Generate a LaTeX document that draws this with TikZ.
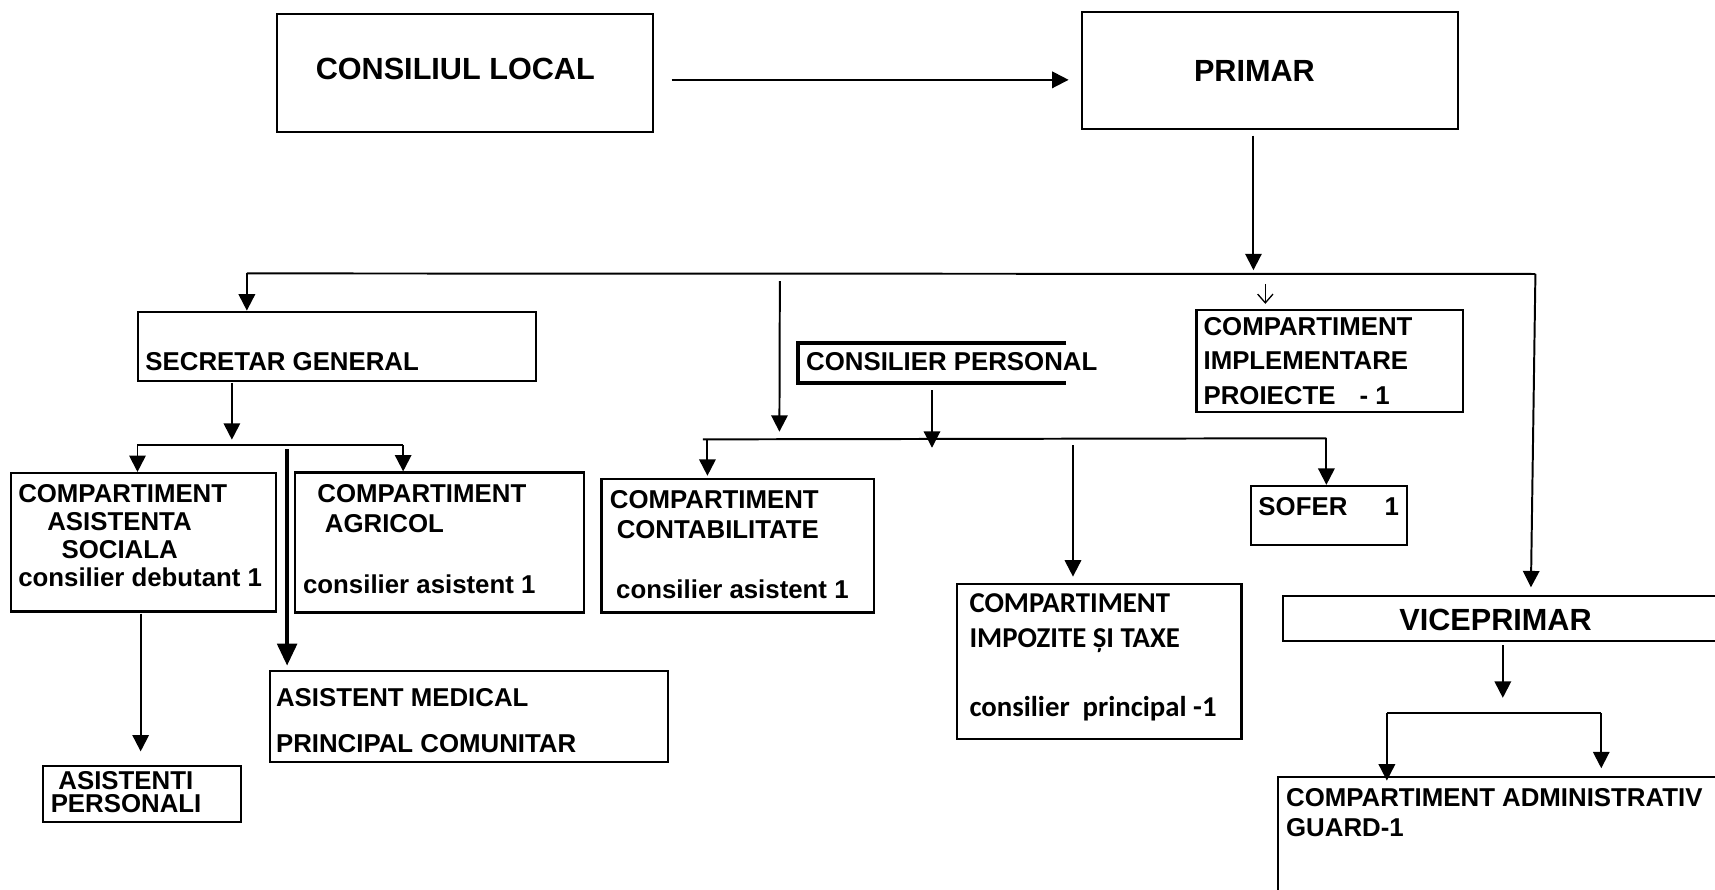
\documentclass[tikz,border=0pt]{standalone}
\usepackage{fontspec}
\setmainfont{Liberation Sans}
\newfontfamily\calfont{Carlito}
\usetikzlibrary{arrows.meta,fit,calc}
\newcommand\mysm{\bfseries\fontsize{11.8pt}{14pt}\selectfont}
\newcommand\mybig{\bfseries\fontsize{14pt}{17pt}\selectfont}
\newcommand\mycal{\calfont\bfseries\fontsize{13.15pt}{16pt}\selectfont}
\begin{document}
\begin{tikzpicture}[x=0.5pt,y=-0.5pt,
  box/.style={draw,line width=1pt,inner sep=0pt},
  arr/.style={line width=0.9pt,-{Triangle[length=7.5pt,width=7.5pt]}},
  thickarr/.style={line width=1.6pt,-{Triangle[length=10pt,width=9pt]}},
  ln/.style={line width=0.9pt},
  txt/.style={anchor=base west,inner sep=0pt,font=\mysm},
  big/.style={anchor=base west,inner sep=0pt,font=\mybig},
  cal/.style={anchor=base west,inner sep=0pt,font=\mycal}]
\clip (0,0) rectangle (1568,813);
\fill[white] (0,0) rectangle (1568,813);

% boxes
\node[box,fit={(253,13) (597,121)}] (consiliu) {};
\node[box,fit={(989,11) (1333,118)}] (primar) {};
\node[box,fit={(126,285) (490,348)}] (secretar) {};
\node[box,fit={(10,432.5) (252,559)}] (asist) {};
\node[box,fit={(270,432) (534,560)}] (agricol) {};
\node[box,fit={(247,613.5) (611,697)}] (medical) {};
\node[box,fit={(39.6,700) (220,751.5)}] (asistenti) {};
\node[inner sep=0pt,fit={(729.6,314) (974.6,349.5)}] (consper) {};
\draw[line width=1.8pt] (consper.north east) -- (consper.north west) -- (consper.south west) -- (consper.south east);
\node[box,fit={(550,438) (799,560)}] (contab) {};
\node[box,fit={(875,534.2) (1135,676)}] (impoz) {};
\node[box,fit={(1094,283.4) (1337.3,377)}] (implem) {};
\node[box,fit={(1143.6,444.3) (1286.2,498.5)}] (sofer) {};
\node[box,fit={(1173,544.6) (1600,585.7)}] (vice) {};
\node[box,fit={(1168.3,710.7) (1600,860)}] (admin) {};

% texts
\node[big] (t1) at (288.3,72.5) {CONSILIUL LOCAL};
\node[big] (t2) at (1091.3,74.7) {PRIMAR};
\node[txt] (t3) at (132.6,338.9) {SECRETAR GENERAL};
\node[txt] (t4) at (16.3,459.3) {COMPARTIMENT};
\node[txt] (t5) at (42.9,485.2) {ASISTENTA};
\node[txt] (t6) at (55.9,511) {SOCIALA};
\node[txt] (t7) at (16.3,536.4) {consilier debutant 1};
\node[txt] (t8) at (289.8,459.3) {COMPARTIMENT};
\node[txt] (t9) at (296.7,486.7) {AGRICOL};
\node[txt] (t10) at (276.7,542.4) {consilier asistent 1};
\node[txt] (t11) at (557.2,464.8) {COMPARTIMENT};
\node[txt] (t12) at (563.5,492.2) {CONTABILITATE};
\node[txt] (t13) at (563,547) {consilier asistent 1};
\node[txt] (t14) at (252,646) {ASISTENT MEDICAL};
\node[txt] (t15) at (252,688) {PRINCIPAL COMUNITAR};
\node[txt] (t16) at (53,721.6) {ASISTENTI};
\node[txt] (t17) at (46,742.7) {PERSONALI};
\node[txt] (t18) at (736.7,338.3) {CONSILIER PERSONAL};
\node[txt] (t19) at (1100,306.3) {COMPARTIMENT};
\node[txt] (t20) at (1100,337.7) {IMPLEMENTARE};
\node[txt] (t21) at (1100,369.4) {PROIECTE\hspace{11pt}- 1};
\node[txt] (t22) at (1150.2,471.7) {SOFER\hspace{17pt}1};
\node[cal] (t23) at (886,560) {COMPARTIMENT};
\node[cal] (t24) at (886,591.8) {IMPOZITE ȘI TAXE};
\node[cal] (t25) at (886,655) {consilier\ \ principal -1};
\node[big] (t26) at (1279,576) {VICEPRIMAR};
\node[txt] (t27) at (1175.5,737.5) {COMPARTIMENT ADMINISTRATIV};
\node[txt] (t28) at (1175.5,765) {GUARD-1};

% connectors
\draw[arr] ($(consiliu.east)+(16,6)$) -- ($(primar.west)+(-11,8.5)$);
\draw[arr] ($(primar.south)+(-15,5)$) -- ($(primar.south)+(-15,128)$);

\coordinate (b1L) at (225.7,250);
\coordinate (b1R) at (1403.8,250.5);
\draw[ln] (b1L) -- (b1R);
\draw[arr] (b1L) -- (b1L |- secretar.north);
\draw[arr] (b1R) -- ($(vice.north)+(13.2,-6.6)$);

\coordinate (v1) at (713,257);
\coordinate (v1e) at (712.6,394.7);
\draw[arr] (v1) -- (v1e);

\draw[line width=0.6pt,-{Straight Barb[length=4pt,width=7pt]}] ($(implem.north)+(-58.8,-22.8)$) -- ($(implem.north)+(-58.8,-4.6)$);

\draw[arr] ($(consper.south)+(0,7.1)$) -- ($(consper.south)+(0,59.5)$);

\coordinate (b2L) at (642.7,401.7);
\coordinate (b2R) at (1212.7,400.7);
\draw[ln] (b2L) -- (b2R);
\coordinate (b2a) at (646.8,401.7);
\draw[arr] (b2a) -- ($(b2a |- contab.north)+(0,-2)$);
\coordinate (b2b) at (981,407);
\draw[arr] (b2b) -- ($(b2b |- impoz.north)+(0,-6)$);
\draw[arr] (b2R) -- (b2R |- sofer.north);

\draw[arr] ($(secretar.south)+(-96,1)$) -- ($(secretar.south)+(-96,53)$);
\coordinate (b3L) at (125.7,407);
\coordinate (b3R) at (368.6,407);
\draw[ln] (b3L) -- (b3R);
\draw[arr] (b3L) -- (b3L |- asist.north);
\draw[arr] (b3R) -- (b3R |- agricol.north);
\coordinate (b3c) at (262.5,410.6);
\draw[thickarr] (b3c) -- ($(b3c |- medical.north)+(0,-4)$);

\draw[arr] ($(asist.south)+(-2.4,1)$) -- ($(asistenti.north)+(-1.2,-12)$);

\draw[arr] ($(vice.south)+(-12.5,3.1)$) -- ($(vice.south)+(-12.5,51.3)$);
\coordinate (b4L) at (1268,652);
\coordinate (b4R) at (1464,652);
\draw[ln] (b4L) -- (b4R);
\draw[arr] (b4L) -- ($(b4L |- admin.north)+(0,4)$);
\draw[arr] (b4R) -- ($(b4R |- admin.north)+(0,-7.3)$);
\end{tikzpicture}
\end{document}
